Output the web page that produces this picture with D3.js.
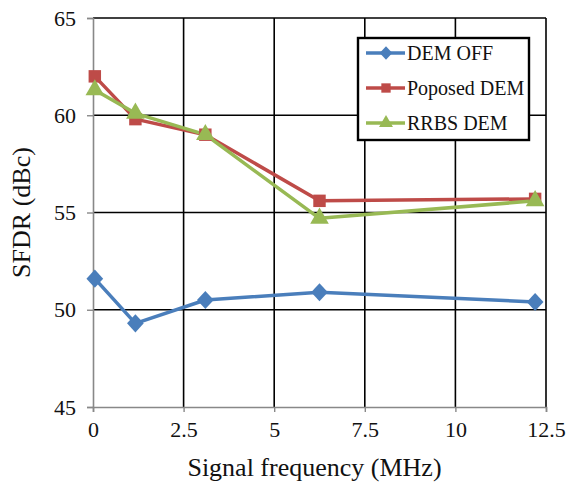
<!DOCTYPE html>
<html><head><meta charset="utf-8">
<script src="https://cdn.jsdelivr.net/npm/d3@7"></script>
<style>body{margin:0;background:#fff}svg{display:block}</style>
</head><body>
<script>
const freqs = [0.05, 1.17, 3.1, 6.25, 12.2];
const demOff = [51.6, 49.3, 50.5, 50.9, 50.4];
const proposed = [62.0, 59.8, 59.0, 55.6, 55.7];
const rrbs = [61.3, 60.1, 59.0, 54.7, 55.6];
const seriesNames = ["DEM OFF", "Poposed DEM", "RRBS DEM"];
const xTicks = [0, 2.5, 5, 7.5, 10, 12.5];
const yTicks = [45, 50, 55, 60, 65];

const W = 570, H = 485;
const m = {l: 93, r: 24, t: 18, b: 78};
const svg = d3.select("body").append("svg").attr("width", W).attr("height", H);
const x = d3.scaleLinear().domain([0, 12.5]).range([m.l, W - m.r]);
const y = d3.scaleLinear().domain([45, 65]).range([H - m.b, m.t]);
const font = "'Liberation Serif', 'Times New Roman', serif";

// grid
svg.append("g").selectAll("line").data(yTicks.filter(d => d > 45)).join("line")
  .attr("x1", x(0)).attr("x2", x(12.5)).attr("y1", d => y(d)).attr("y2", d => y(d))
  .attr("stroke", "#000").attr("stroke-width", 1.6);
svg.append("g").selectAll("line").data(xTicks.filter(d => d > 0)).join("line")
  .attr("y1", y(45)).attr("y2", y(65)).attr("x1", d => x(d)).attr("x2", d => x(d))
  .attr("stroke", "#000").attr("stroke-width", 1.6);

// axes
const xAxis = d3.axisBottom(x).tickValues(xTicks).tickFormat(d3.format("")).tickSize(5).tickPadding(9);
const yAxis = d3.axisLeft(y).tickValues(yTicks).tickSize(6).tickPadding(11);
const gx = svg.append("g").attr("transform", `translate(0,${y(45)})`).call(xAxis);
const gy = svg.append("g").attr("transform", `translate(${x(0)},0)`).call(yAxis);
[gx, gy].forEach(g => {
  g.select(".domain").attr("stroke", "#888").attr("stroke-width", 1.6);
  g.selectAll(".tick line").attr("stroke", "#888").attr("stroke-width", 1.4);
  g.selectAll("text").attr("font-family", font).attr("font-size", 22).attr("fill", "#111");
});

// axis titles
svg.append("text").attr("x", (x(0) + x(12.5)) / 2 - 5).attr("y", 476).attr("text-anchor", "middle")
  .attr("font-family", font).attr("font-size", 26).attr("fill", "#111").text("Signal frequency (MHz)");
svg.append("text").attr("transform", `translate(30,${(y(45) + y(65)) / 2}) rotate(-90)`)
  .attr("text-anchor", "middle").attr("font-family", font).attr("font-size", 26).attr("fill", "#111")
  .text("SFDR (dBc)");

const colors = ["#4A7EBB", "#BE4B48", "#98B954"];
const data = [demOff, proposed, rrbs];
const line = d3.line().x((d, i) => x(freqs[i])).y(d => y(d));

function marker(g, k, s) {
  // s = scale factor
  if (k === 0) {
    g.append("path").attr("d", d3.symbol().type(d3.symbolSquare).size(140 * s * s)())
      .attr("transform", "scale(1,1.08) rotate(45)");
  } else if (k === 1) {
    g.append("path").attr("d", d3.symbol().type(d3.symbolSquare).size(155 * s * s)());
  } else {
    g.append("path").attr("d", d3.symbol().type(d3.symbolTriangle).size(150 * s * s)());
  }
}

data.forEach((vals, k) => {
  svg.append("path").datum(vals).attr("d", line).attr("fill", "none")
    .attr("stroke", colors[k]).attr("stroke-width", 3.5).attr("stroke-linejoin", "round");
});
data.forEach((vals, k) => {
  svg.append("g").attr("fill", colors[k]).selectAll("g").data(vals).join("g")
    .attr("transform", (d, i) => `translate(${x(freqs[i])},${y(d)})`)
    .each(function () { marker(d3.select(this), k, 1); });
});

// legend
const lg = svg.append("g");
lg.append("rect").attr("x", 358).attr("y", 38).attr("width", 171).attr("height", 102)
  .attr("fill", "#fff").attr("stroke", "#000").attr("stroke-width", 2.4);
seriesNames.forEach((name, k) => {
  const yy = 53 + k * 35;
  lg.append("line").attr("x1", 366).attr("x2", 405).attr("y1", yy).attr("y2", yy)
    .attr("stroke", colors[k]).attr("stroke-width", 3.5);
  const mg = lg.append("g").attr("fill", colors[k]).attr("transform", `translate(386,${yy})`);
  marker(mg, k, 0.75);
  lg.append("text").attr("x", 407).attr("y", yy + 7).attr("font-family", font).attr("font-size", 20)
    .attr("fill", "#111").text(name);
});
</script>
</body></html>
